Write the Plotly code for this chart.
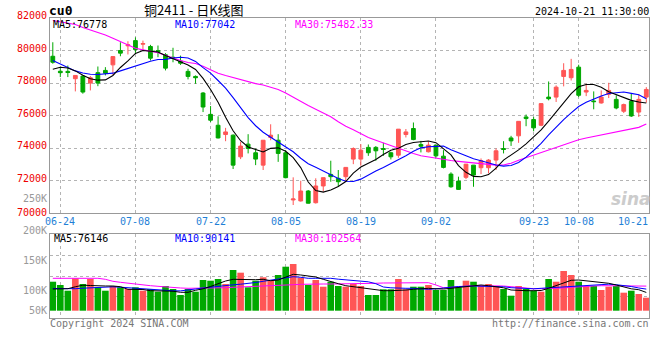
import pandas as pd
import plotly.graph_objects as go

# ---------------- data ----------------
holidays = ["2024-09-16", "2024-09-17", "2024-10-01", "2024-10-02",
            "2024-10-03", "2024-10-04", "2024-10-07"]
dates = [d.strftime("%Y-%m-%d") for d in pd.bdate_range("2024-06-21", "2024-10-21")
         if d.strftime("%Y-%m-%d") not in holidays]

opens = [79650, 78730, 78720, 78270, 78430, 78000, 78640, 78780, 79120, 80000,
         80290, 80610, 80390, 80250, 80000, 79740, 79590, 79350, 78720, 78410,
         77390, 76080, 75410, 74840, 74800, 73470, 74250, 73720, 72960, 74660,
         74490, 73720, 70820, 70760, 71370, 70650, 71680, 72390, 72150, 72250,
         73330, 73330, 74050, 74050, 73980, 73720, 73570, 74840, 75210, 74230,
         73780, 74190, 73510, 72410, 71980, 72210, 72960, 72800, 72800, 73270,
         73980, 74630, 74760, 75920, 75760, 75410, 77140, 77140, 78410, 78330,
         78980, 77450, 76900, 76780, 77310, 77000, 76270, 76880, 76220, 77140]
highs = [80510, 78920, 79080, 78480, 78470, 78430, 79020, 78980, 79640, 80510,
         80570, 80810, 80610, 80350, 80310, 79840, 80170, 79690, 78880, 78470,
         77450, 76590, 75960, 75250, 74850, 74390, 74860, 73980, 74500, 75470,
         74860, 73880, 72210, 72000, 71430, 72150, 72200, 73230, 72660, 72830,
         74050, 74250, 74230, 74130, 74330, 73780, 75180, 75180, 75580, 74450,
         74390, 74200, 73880, 72520, 72250, 73030, 72970, 73370, 73330, 73980,
         74430, 74760, 75660, 76070, 75920, 76750, 78100, 77860, 79220, 79490,
         79130, 77960, 77490, 77550, 78020, 77250, 76740, 77350, 77310, 77750]
lows = [79190, 78370, 78370, 77490, 77350, 77550, 77810, 78470, 78510, 79650,
        79760, 79860, 80000, 79390, 79590, 78780, 79280, 79120, 78230, 77960,
        76220, 75610, 74600, 74430, 72720, 73330, 73680, 72960, 72660, 74490,
        73160, 72150, 70510, 70720, 70600, 70600, 71330, 71940, 71630, 71940,
        73020, 72920, 73530, 73230, 73530, 73310, 73410, 74660, 74490, 73740,
        73740, 73410, 72760, 71570, 71450, 72100, 71630, 72410, 72450, 72660,
        73680, 74140, 74330, 75350, 75040, 75350, 76940, 76840, 77800, 78160,
        77140, 77200, 76390, 76740, 77080, 76390, 76160, 75920, 75920, 76800]
closes = [79280, 78640, 78650, 78470, 77450, 78330, 78000, 78610, 79630, 79840,
          80350, 80060, 80430, 79530, 79900, 78920, 79530, 79220, 78410, 78330,
          76530, 75720, 74630, 75000, 72960, 74130, 73980, 73330, 74490, 74800,
          73680, 72190, 70880, 71370, 70620, 71680, 72190, 72250, 71940, 72820,
          73980, 73880, 73720, 73840, 73920, 73470, 75170, 75000, 74530, 74120,
          74190, 73530, 72820, 71630, 71470, 73020, 72350, 73230, 73270, 73840,
          73920, 74450, 75650, 75820, 75250, 76740, 77040, 77750, 78780, 78840,
          77250, 77550, 76860, 77140, 77550, 76470, 76680, 75980, 77000, 77610]

ma5 = [78850, 78970, 78930, 78750, 78480, 78270, 78180, 78200, 78470, 78960,
       79360, 79820, 80000, 79970, 79910, 79690, 79510, 79300, 79110, 78840,
       78290, 77610, 76820, 75900, 75070, 74460, 74080, 73920, 73770, 73990,
       74020, 73810, 73420, 72810, 71920, 71400, 71300, 71430, 71650, 71950,
       72470, 72840, 73070, 73310, 73610, 73870, 74000, 74230, 74350, 74410,
       74440, 74340, 73970, 73590, 72930, 72520, 72270, 72250, 72380, 72780,
       73270, 73570, 73900, 74270, 74680, 75120, 75660, 76200, 76760, 77350,
       77770, 77910, 77910, 77740, 77470, 77290, 77110, 76940, 76840, 76778]
ma10 = [79390, 79180, 78960, 78750, 78620, 78540, 78530, 78560, 78610, 78750,
        78900, 79050, 79170, 79340, 79450, 79460, 79540, 79590, 79540, 79330,
        78950, 78610, 78160, 77690, 77110, 76520, 75880, 75380, 74980, 74670,
        74380, 74090, 73780, 73380, 73050, 72830, 72600, 72360, 72140, 71970,
        71950, 72100, 72360, 72600, 72820, 73050, 73290, 73540, 73810, 74020,
        74090, 74130, 74130, 73900, 73700, 73540, 73350, 73230, 73100, 72970,
        72900, 72940, 73120, 73450, 73860, 74300, 74820, 75300, 75760, 76170,
        76560, 76820, 77030, 77210, 77360, 77420, 77450, 77370, 77280, 77042]
ma30 = [81850, 81770, 81700, 81600, 81420, 81270, 81110, 80950, 80750, 80560,
        80330, 80140, 80040, 79950, 79860, 79710, 79540, 79390, 79270, 79200,
        79030, 78800, 78610, 78470, 78340, 78200, 78060, 77970, 77880, 77750,
        77610, 77390, 77120, 76860, 76630, 76400, 76160, 75930, 75620, 75350,
        75140, 74900, 74660, 74490, 74320, 74140, 73980, 73800, 73670, 73540,
        73460, 73390, 73320, 73240, 73190, 73150, 73100, 73060, 73000, 72960,
        72970, 73080, 73260, 73420, 73540, 73700, 73860, 74050, 74190, 74360,
        74520, 74630, 74720, 74800, 74910, 75010, 75090, 75170, 75280, 75482.33]

volumes = [120900, 107200, 83400, 135100, 111300, 132200, 97600, 83400, 103000, 97600,
           90500, 97600, 83400, 90500, 79200, 103000, 90500, 65500, 90500, 79200,
           128000, 125100, 132200, 111300, 169700, 158500, 97600, 125100, 139300, 125100,
           148900, 183500, 194700, 137600, 107200, 128000, 100100, 120900, 103000, 100100,
           111300, 103000, 65500, 65500, 89200, 89200, 132200, 89200, 100100, 100100,
           107200, 86300, 86300, 128000, 97600, 125100, 120900, 103000, 111300, 103000,
           90500, 62600, 103000, 90500, 83400, 79200, 132200, 120900, 165500, 148900,
           120900, 103000, 103000, 86300, 100100, 103000, 75100, 83400, 69600, 54200]
vol_ma5 = [90500, 89700, 91700, 99700, 106300, 105100, 103000, 103000, 103000, 100100,
           89200, 89200, 88400, 83400, 83000, 83400, 81300, 76700, 76700, 85100,
           91300, 100900, 113400, 123800, 130900, 130100, 128000, 129300, 130900, 125100,
           128000, 140500, 151800, 148900, 144700, 140500, 130900, 120900, 112600, 104300,
           100100, 94700, 89200, 85100, 83400, 83400, 83400, 86300, 89200, 91300,
           93400, 91300, 90500, 93400, 97600, 101700, 105900, 107200, 104300, 100100,
           95500, 86300, 84200, 83400, 83400, 84200, 93400, 104300, 114300, 126800,
           128000, 125100, 122600, 118800, 114300, 107200, 97600, 91300, 87600, 76146]
vol_ma10 = [92600, 91300, 90500, 91700, 93800, 95500, 97600, 98000, 99700, 98000,
            95500, 92600, 91300, 89200, 86300, 83800, 83000, 82600, 85500, 90500,
            94700, 98800, 101700, 105900, 108000, 110500, 113400, 117600, 122600, 126800,
            131400, 135100, 141800, 139300, 135100, 135100, 135100, 135100, 131400, 128000,
            125100, 122600, 120500, 112600, 98800, 95500, 93400, 93400, 93400, 91300,
            89200, 91300, 93400, 97600, 100900, 103000, 103000, 102200, 101700, 100900,
            99700, 95900, 93400, 91300, 91300, 93400, 95500, 97600, 100100, 103000,
            105100, 107200, 107200, 108400, 110500, 108400, 105900, 100900, 94700, 90141]
vol_ma30 = [135100, 135100, 135100, 135100, 135100, 135100, 135100, 130900, 122600, 118400,
            114300, 111300, 108400, 104300, 101700, 98800, 95900, 94700, 93400, 93400,
            93400, 93400, 94700, 95900, 97600, 98800, 100100, 101700, 103000, 103000,
            103000, 105900, 108400, 110100, 111300, 111300, 111300, 111300, 111300, 111300,
            111300, 111300, 112600, 114300, 115500, 115500, 116800, 116800, 116800, 116800,
            116800, 107200, 95900, 97600, 100100, 103000, 104300, 104300, 104300, 103000,
            103000, 100100, 97600, 93400, 91700, 91700, 91700, 93400, 94700, 97600,
            100100, 101700, 103000, 104300, 104300, 104300, 104300, 103000, 103000, 102564]

tick_dates = ["2024-06-24", "2024-07-08", "2024-07-22", "2024-08-05", "2024-08-19",
              "2024-09-02", "2024-09-23", "2024-10-08", "2024-10-21"]
tick_labels = ["06-24", "07-08", "07-22", "08-05", "08-19", "09-02", "09-23", "10-08", "10-21"]
price_ticks = [70000, 72000, 74000, 76000, 78000, 80000, 82000]
vol_tick_labels = ["250K", "200K", "150K", "100K", "50K"]

symbol = "cu0"
title_text = "铜2411 - 日K线图"
stamp = "2024-10-21 11:30:00"
copyright_text = "Copyright 2024 SINA.COM"
url_text = "http://finance.sina.com.cn"

# ---------------- styles / geometry ----------------
W, H = 660, 360
ML, MR, MT, MB = 50, 11, 18, 42
PW, PH = W - ML - MR, H - MT - MB


def fx(px):
    return (px - ML) / PW


def fy(py):
    return (H - MB - py) / PH


RED = "#ff5555"
GREEN = "#00a800"
MONO = "DejaVu Sans Mono"
GRID = "#b4b4b4"
FRAME = "#999999"
XR = [-0.373, 79.36]
VOL_RANGE = [-30440, 319840]
VOL_GRID = [57500, 144700, 231400]
VOL_LABEL_Y = [198.5, 230.7, 260.7, 290, 310]


def fmt(v):
    return str(int(v)) if float(v).is_integer() else f"{v:.2f}"


fig = go.Figure()

fig.add_trace(go.Candlestick(
    x=dates, open=opens, high=highs, low=lows, close=closes,
    increasing=dict(line=dict(color=RED, width=1), fillcolor=RED),
    decreasing=dict(line=dict(color=GREEN, width=1), fillcolor=GREEN),
    whiskerwidth=0, hoverinfo="skip", xaxis="x", yaxis="y"))

for ys, col in [(ma30, "#ff00ff"), (ma10, "#0000ff"), (ma5, "#000000")]:
    fig.add_trace(go.Scatter(x=dates, y=ys, mode="lines",
                             line=dict(color=col, width=1.1),
                             hoverinfo="skip", xaxis="x", yaxis="y"))

bar_colors = [RED if c >= o else GREEN for o, c in zip(opens, closes)]
fig.add_trace(go.Bar(x=dates, y=volumes, marker=dict(color=bar_colors, line=dict(width=0)),
                     hoverinfo="skip", xaxis="x2", yaxis="y2"))
for ys, col in [(vol_ma30, "#ff00ff"), (vol_ma10, "#0000ff"), (vol_ma5, "#000000")]:
    fig.add_trace(go.Scatter(x=dates, y=ys, mode="lines",
                             line=dict(color=col, width=1),
                             hoverinfo="skip", xaxis="x2", yaxis="y2"))

axis_common = dict(showline=True, mirror=True, linecolor=FRAME, linewidth=1,
                   zeroline=False, ticks="", showgrid=True, gridcolor=GRID,
                   griddash="dot", gridwidth=1, fixedrange=True, automargin=False)

fig.update_layout(
    width=W, height=H, margin=dict(l=ML, r=MR, t=MT, b=MB, autoexpand=False),
    paper_bgcolor="white", plot_bgcolor="white",
    showlegend=False, hovermode=False, bargap=0.12, boxgap=0.28,
    xaxis=dict(type="category", categoryorder="array", categoryarray=dates,
               range=XR, domain=[0, 1], anchor="y",
               tickvals=tick_dates[:-1], showticklabels=False,
               rangeslider=dict(visible=False), **axis_common),
    yaxis=dict(domain=[fy(213.3), 1], range=[70000, 82000], anchor="x",
               tickvals=price_ticks, showticklabels=False, **axis_common),
    xaxis2=dict(type="category", categoryorder="array", categoryarray=dates,
                range=XR, domain=[0, 1], anchor="y2",
                tickvals=tick_dates[:-1], showticklabels=False, **axis_common),
    yaxis2=dict(domain=[0, fy(234)], range=VOL_RANGE, anchor="x2",
                tickvals=VOL_GRID, showticklabels=False, **axis_common),
)

ann = []


def text(s, x, y, color="#000", size=10, xanchor="left", family=MONO,
         xref="paper", yref="paper", **kw):
    ann.append(dict(text=s, x=x, y=y, xref=xref, yref=yref, showarrow=False,
                    xanchor=xanchor, yanchor="middle", borderpad=0, borderwidth=0,
                    font=dict(family=family, size=size, color=color), **kw))


# header
text(f"<b>{symbol}</b>", fx(49), fy(11), size=13)
text(title_text, fx(194), fy(9.4), size=13, xanchor="center", family="Noto Sans CJK SC")
text(stamp, fx(649), fy(12), xanchor="right")

# price axis labels (drawn slightly above their grid lines, as in the original)
for v in price_ticks:
    shift = 2.5 if v > price_ticks[0] else 0.5
    text(str(v), fx(46.5), v, color="#ee0000", xanchor="right", yref="y", yshift=shift)

# price legend
text(f"MA5:{fmt(ma5[-1])}", fx(53), fy(24.8), color="#000000")
text(f"MA10:{fmt(ma10[-1])}", fx(175), fy(24.8), color="#0000ff")
text(f"MA30:{fmt(ma30[-1])}", fx(295), fy(24.8), color="#ff00ff")

# volume legend
text(f"MA5:{fmt(vol_ma5[-1])}", fx(54), fy(238.6), color="#000000")
text(f"MA10:{fmt(vol_ma10[-1])}", fx(175), fy(238.6), color="#0000ff")
text(f"MA30:{fmt(vol_ma30[-1])}", fx(295), fy(238.6), color="#ff00ff")

# volume axis labels
for lab, py in zip(vol_tick_labels, VOL_LABEL_Y):
    text(lab, fx(46.5), fy(py), color="#999999", xanchor="right")

# date labels
for i, (d, lab) in enumerate(zip(tick_dates, tick_labels)):
    last = i == len(tick_dates) - 1
    text(lab, d, fy(221.5), color="#1f7fd6", xref="x",
         xanchor="right" if last else "center", xshift=2 if last else 0)

# footer
text(copyright_text, fx(50), fy(323.7), color="#777777")
text(url_text, fx(649), fy(323.7), color="#777777", xanchor="right")

# watermark
text("<b><i>sina</i></b>", fx(631), fy(199), color="#cccccc", size=17,
     xanchor="center", family="DejaVu Sans")

fig.update_layout(annotations=ann)
fig.write_html("out.html", config={"displayModeBar": False},
               post_script="document.body.style.margin='0';document.body.style.overflow='hidden';")
